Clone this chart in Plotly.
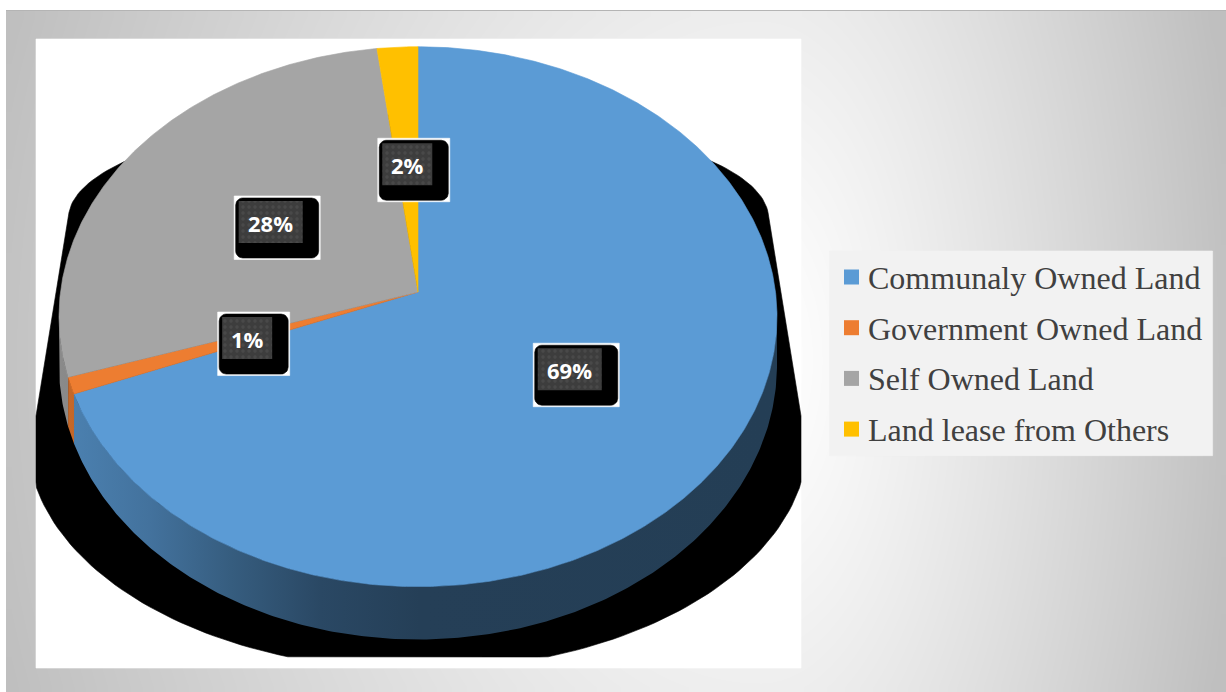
import numpy as np
import plotly.graph_objects as go

# ---- data -------------------------------------------------------------
categories = ["Communaly Owned Land", "Government Owned Land",
              "Self Owned Land", "Land lease from Others"]
shares = [69, 1, 28, 2]
colors = ["#5b9bd5", "#ed7d31", "#a5a5a5", "#ffc000"]
label_text = [f"{v}%" for v in shares]

# ---- page geometry (pixel space, y grows downward) --------------------
W, H = 1226, 692
PLOT_BOX = (36, 39, 801, 668)          # white chart area
LEGEND_BOX = (829.5, 251, 1212.6, 455.7)

# tilted-disc projection (a homography of the unit circle)
CX, CY = 418.0, 292.0
AX, BY = 357.5, 267.7
K = 0.0915
DEPTH = 48.0


def proj(theta, r=1.0):
    u = r * np.sin(theta)
    v = r * np.cos(theta)
    s = 1 + K * v
    return CX + AX * u / s, CY - BY * v / s


def depth_at(theta):
    return DEPTH / (1 + K * np.cos(theta))


def hexrgb(c):
    c = c.lstrip("#")
    return tuple(int(c[i:i + 2], 16) for i in (0, 2, 4))


def scaled(c, f):
    r, g, b = hexrgb(c)
    return "rgb(%d,%d,%d)" % (r * f, g * f, b * f)


def poly_trace(xs, ys, color, **kw):
    return go.Scatter(x=list(xs), y=list(ys), mode="lines", fill="toself",
                      fillcolor=color, line=dict(width=0.6, color=color),
                      hoverinfo="skip", showlegend=False, **kw)


def rect_xy(x0, y0, x1, y1):
    return [x0, x1, x1, x0, x0], [y0, y0, y1, y1, y0]


def rounded_rect_xy(x0, y0, x1, y1, r, n=8):
    xs, ys = [], []
    corners = [(x1 - r, y0 + r, -np.pi / 2, 0), (x1 - r, y1 - r, 0, np.pi / 2),
               (x0 + r, y1 - r, np.pi / 2, np.pi), (x0 + r, y0 + r, np.pi, 1.5 * np.pi)]
    for cx, cy, a0, a1 in corners:
        a = np.linspace(a0, a1, n)
        xs += list(cx + r * np.cos(a))
        ys += list(cy + r * np.sin(a))
    return xs + [xs[0]], ys + [ys[0]]


def convex_hull(pts):
    pts = sorted(set(pts))

    def cross(o, a, b):
        return (a[0] - o[0]) * (b[1] - o[1]) - (a[1] - o[1]) * (b[0] - o[0])
    lower, upper = [], []
    for p in pts:
        while len(lower) >= 2 and cross(lower[-2], lower[-1], p) <= 0:
            lower.pop()
        lower.append(p)
    for p in reversed(pts):
        while len(upper) >= 2 and cross(upper[-2], upper[-1], p) <= 0:
            upper.pop()
        upper.append(p)
    return lower[:-1] + upper[:-1]


traces = []

# ---- framed gradient background --------------------------------------
gx = np.linspace(6, W, 123)
gy = np.linspace(10.5, H, 70)
mx = 0.5 * (gx[1:] + gx[:-1])
my = 0.5 * (gy[1:] + gy[:-1])
XX, YY = np.meshgrid(mx, my)
ax_ = np.where(XX < 760, 790.0, 480.0)
rr = np.sqrt(((XX - 760) / ax_) ** 2 + ((YY - 360) / 1000.0) ** 2)
zz = np.clip(rr, 0, 1) ** 1.2
traces.append(go.Heatmap(x=gx, y=gy, z=zz, zmin=0, zmax=1, zsmooth="best",
                         colorscale=[[0, "#ffffff"], [1, "#bfbfbf"]],
                         showscale=False, hoverinfo="skip"))
traces.append(go.Scatter(x=[6, W], y=[10.5, 10.5], mode="lines",
                         line=dict(color="#b4b4b4", width=1),
                         hoverinfo="skip", showlegend=False))

# white chart area
x0, y0, x1, y1 = PLOT_BOX
traces.append(poly_trace(*rect_xy(x0, y0, x1, y1), "#ffffff"))

# ---- hard drop shadow behind the pie --------------------------------
t = np.linspace(0, 2 * np.pi, 240, endpoint=False)
shadow_pts = []
for cx, cy, rx, ry in [(418.5, 218, 350, 104), (418, 440, 390, 230)]:
    shadow_pts += [(float(cx + rx * np.cos(a)), float(cy + ry * np.sin(a))) for a in t]
hull = convex_hull(shadow_pts)
sx = np.clip([p[0] for p in hull], x0, x1)
sy = np.clip([p[1] for p in hull], y0, 657)
traces.append(poly_trace(list(sx) + [sx[0]], list(sy) + [sy[0]], "#000000"))

# ---- slices -----------------------------------------------------------
total = float(sum(shares))
bounds = np.concatenate([[0], np.cumsum(shares)]) / total * 2 * np.pi
vis_lo = np.arccos(-K)
vis_hi = 2 * np.pi - vis_lo

# side walls (front half only)
wall_pos = [0.0, 0.125, 0.238, 0.364, 0.503, 1.0]
wall_fac = [0.84, 0.74, 0.6, 0.47, 0.41, 0.40]
x_left, _ = proj(3 * np.pi / 2)
x_right, _ = proj(np.pi / 2)
for i in range(len(shares)):
    a, b = max(bounds[i], vis_lo), min(bounds[i + 1], vis_hi)
    if b <= a:
        continue
    th = np.linspace(a, b, max(4, int((b - a) / 0.01)))
    tx, ty = proj(th)
    bx, by = tx, ty + depth_at(th)
    xs = np.concatenate([tx, bx[::-1], tx[:1]])
    ys = np.concatenate([ty, by[::-1], ty[:1]])
    cs = [[p, scaled(colors[i], f)] for p, f in zip(wall_pos, wall_fac)]
    traces.append(go.Scatter(
        x=xs, y=ys, mode="lines", fill="toself",
        fillgradient=dict(type="horizontal", colorscale=cs,
                          start=x_left, stop=x_right),
        line=dict(width=0), hoverinfo="skip", showlegend=False))

# top faces
for i in range(len(shares)):
    a, b = bounds[i], bounds[i + 1]
    th = np.linspace(a, b, max(4, int((b - a) / 0.008)))
    ax, ay = proj(th)
    xs = np.concatenate([[CX], ax, [CX]])
    ys = np.concatenate([[CY], ay, [CY]])
    traces.append(poly_trace(xs, ys, colors[i]))

# ---- data labels ------------------------------------------------------
annotations = []
for i, txt in enumerate(label_text):
    mid = 0.5 * (bounds[i] + bounds[i + 1])
    lx, ly = proj(mid, 0.5)
    gw, gh = 22 + 14 * len(txt), 42
    gx0, gy0, gx1, gy1 = lx - gw / 2, ly - gh / 2, lx + gw / 2, ly + gh / 2
    traces.append(poly_trace(*rect_xy(gx0 - 4.5, gy0 - 5, gx1 + 17.5, gy1 + 16.5), "#ffffff"))
    traces.append(poly_trace(*rounded_rect_xy(gx0 - 3, gy0 - 3, gx1 + 16, gy1 + 15, 7), "#000000"))
    traces.append(go.Scatter(
        x=rect_xy(gx0, gy0, gx1, gy1)[0], y=rect_xy(gx0, gy0, gx1, gy1)[1],
        mode="lines", fill="toself", fillcolor="#3d3d3d",
        fillpattern=dict(shape=".", bgcolor="#3d3d3d", fgcolor="#555555",
                         size=6, solidity=0.25),
        line=dict(width=0), hoverinfo="skip", showlegend=False))
    annotations.append(dict(x=lx, y=ly + 0.5, xref="x", yref="y", text=txt,
                            showarrow=False, xanchor="center", yanchor="middle",
                            font=dict(family="Open Sans", size=22, color="#ffffff",
                                      weight="bold")))

# ---- legend -----------------------------------------------------------
lx0, ly0, lx1, ly1 = LEGEND_BOX
traces.append(poly_trace(*rect_xy(lx0, ly0, lx1, ly1), "#f2f2f2"))
row_y = [277 + 50.7 * i for i in range(len(categories))]
traces.append(go.Scatter(x=[851.5] * len(categories), y=row_y, mode="markers",
                         marker=dict(symbol="square", size=15, color=colors,
                                     line=dict(width=0)),
                         hoverinfo="skip", showlegend=False))
for name, yy in zip(categories, row_y):
    annotations.append(dict(x=866, y=yy + 1, xref="x", yref="y", text=name,
                            showarrow=False, xanchor="left", yanchor="middle",
                            font=dict(family="Liberation Serif", size=32,
                                      color="#404040")))

fig = go.Figure(traces)
fig.update_layout(
    width=W, height=H, margin=dict(l=0, r=0, t=0, b=0),
    paper_bgcolor="#ffffff", plot_bgcolor="#ffffff",
    xaxis=dict(range=[0, W], visible=False, fixedrange=True),
    yaxis=dict(range=[H, 0], visible=False, fixedrange=True),
    annotations=annotations, showlegend=False,
)
fig.write_html("out.html")
